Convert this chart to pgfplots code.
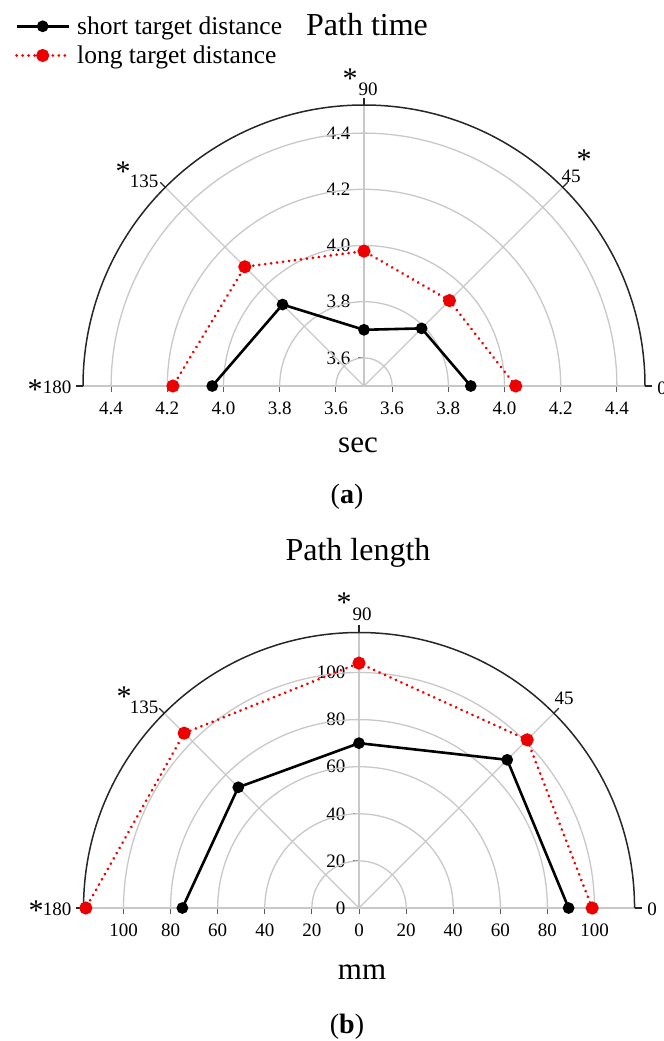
\documentclass[border=0pt]{standalone}
\usepackage{fontspec}
\setmainfont{Liberation Serif}
\usepackage{pgfplots}
\pgfplotsset{compat=1.18}
\usepackage{pgfplotstable}

\definecolor{myred}{RGB}{236,0,0}
\definecolor{gridc}{RGB}{200,200,200}

\pgfplotstableread{
ang r
0 3.88
45 3.79
90 3.70
135 3.91
180 4.04
}\timeShort
\pgfplotstableread{
ang r
0 4.04
45 3.93
90 3.98
135 4.10
180 4.18
}\timeLong
\pgfplotstableread{
ang r
0 89
45 89
90 70
135 72.5
180 75
}\lenShort
\pgfplotstableread{
ang r
0 99
45 101
90 104
135 105
180 116
}\lenLong

\newcommand{\tickfont}{\fontsize{19bp}{22bp}\selectfont}
\newcommand{\angfont}{\fontsize{19bp}{22bp}\selectfont}
\newcommand{\starfont}{\fontsize{30bp}{32bp}\selectfont}
\newcommand{\legfont}{\fontsize{25.5bp}{29bp}\selectfont}
\newcommand{\titlefont}{\fontsize{32bp}{36bp}\selectfont}
\newcommand{\unitfont}{\fontsize{31bp}{34bp}\selectfont}
\newcommand{\capfont}{\fontsize{28bp}{32bp}\selectfont}

\pgfplotsset{
  polarbase/.style={
    axis x line=bottom, axis y line=center,
    axis line style={draw=gridc, line width=1.3bp, -},
    tick align=outside, major tick length=6bp,
    tick style={draw=black!65, line width=0.9bp},
    ticklabel style={font=\tickfont},
    xticklabel style={yshift=-6bp},
    yticklabel style={xshift=-4bp},
    /pgf/number format/assume math mode=true,
    hide obscured x ticks=false, hide obscured y ticks=false,
    clip=false,
    anchor=south,
  },
  shortstyle/.style={black, line width=2.6bp, mark=*, mark size=4.5bp, mark options={solid, fill=black}},
  longstyle/.style={myred, line width=3bp, line cap=round, dash pattern=on 0.01bp off 6bp, mark=*, mark size=5bp, mark options={solid, fill=myred, draw=myred}},
}

\begin{document}
\begin{tikzpicture}
\path[use as bounding box] (0,0) rectangle (664bp,-1041bp);

% ---------------- (a) Path time ----------------
\begin{axis}[polarbase,
  at={(364bp,-386bp)},
  x=281bp, y=281bp,
  xmin=-1, xmax=1, ymin=0, ymax=1,
  xtick={-0.9,-0.7,-0.5,-0.3,-0.1,0.1,0.3,0.5,0.7,0.9},
  xticklabels={4.4,4.2,4.0,3.8,3.6,3.6,3.8,4.0,4.2,4.4},
  ytick={0.1,0.3,0.5,0.7,0.9},
  yticklabels={3.6,3.8,4.0,4.2,4.4},
  legend style={at={(axis description cs:-0.121,1.322)}, anchor=north west,
    draw=none, fill=none, font=\legfont, inner sep=0pt, row sep=6bp,
    /tikz/every odd column/.append style={column sep=5bp}},
  legend cell align=left,
  legend image code/.code={\draw[mark repeat=2,mark phase=2,#1] plot coordinates {(0bp,0bp) (26bp,0bp) (52bp,0bp)};},
]
\pgfplotsinvokeforeach{0.1,0.3,0.5,0.7,0.9}{
  \addplot[forget plot, gridc, line width=1.3bp, domain=0:180, samples=121] ({#1*cos(x)},{#1*sin(x)});
}
\addplot[forget plot, gridc, line width=1.3bp] coordinates {(0,0) (0.7071,0.7071)};
\addplot[forget plot, gridc, line width=1.3bp] coordinates {(0,0) (-0.7071,0.7071)};
\draw[black!85, line width=1.5bp] (axis cs:1,0) arc[start angle=0, end angle=180, radius=281bp];
\pgfplotsinvokeforeach{0,45,90,135,180}{
  \draw[black!85, line width=1.2bp] (axis cs:{cos(#1)},{sin(#1)}) -- ++(#1:7bp);
}
\addplot[shortstyle] table[x expr={(\thisrow{r}-3.5)*cos(\thisrow{ang})}, y expr={(\thisrow{r}-3.5)*sin(\thisrow{ang})}] {\timeShort};
\addplot[longstyle] table[x expr={(\thisrow{r}-3.5)*cos(\thisrow{ang})}, y expr={(\thisrow{r}-3.5)*sin(\thisrow{ang})}] {\timeLong};
\legend{short target distance, long target distance}
\end{axis}

\node[font=\titlefont] at (367bp,-25bp) {Path time};
\node[font=\starfont] at (350bp,-79bp) {*};
\node[font=\angfont] at (368bp,-89bp) {90};
\node[font=\starfont] at (123bp,-172bp) {*};
\node[font=\angfont] at (144bp,-181bp) {135};
\node[font=\angfont] at (571bp,-176bp) {45};
\node[font=\starfont] at (584bp,-160bp) {*};
\node[font=\starfont] at (35bp,-390bp) {*};
\node[font=\angfont] at (57bp,-387bp) {180};
\node[font=\angfont] at (662bp,-388bp) {0};
\node[font=\unitfont] at (358bp,-445bp) {sec};
\node[font=\capfont] at (347bp,-497bp) {(\textbf{a})};

% ---------------- (b) Path length ----------------
\node[font=\titlefont] at (358bp,-553bp) {Path length};
\begin{axis}[polarbase,
  at={(359bp,-908bp)},
  x=2.355bp, y=2.355bp,
  xmin=-117, xmax=117, ymin=0, ymax=117,
  xtick={-100,-80,-60,-40,-20,0,20,40,60,80,100},
  xticklabels={100,80,60,40,20,0,20,40,60,80,100},
  ytick={0,20,40,60,80,100},
  yticklabels={0,20,40,60,80,100},
]
\pgfplotsinvokeforeach{20,40,60,80,100}{
  \addplot[forget plot, gridc, line width=1.3bp, domain=0:180, samples=121] ({#1*cos(x)},{#1*sin(x)});
}
\addplot[forget plot, gridc, line width=1.3bp] coordinates {(0,0) (82.73,82.73)};
\addplot[forget plot, gridc, line width=1.3bp] coordinates {(0,0) (-82.73,82.73)};
\draw[black!85, line width=1.5bp] (axis cs:117,0) arc[start angle=0, end angle=180, radius=275.5bp];
\pgfplotsinvokeforeach{0,45,90,135,180}{
  \draw[black!85, line width=1.2bp] (axis cs:{117*cos(#1)},{117*sin(#1)}) -- ++(#1:7bp);
}
\addplot[shortstyle] table[x expr={\thisrow{r}*cos(\thisrow{ang})}, y expr={\thisrow{r}*sin(\thisrow{ang})}] {\lenShort};
\addplot[longstyle] table[x expr={\thisrow{r}*cos(\thisrow{ang})}, y expr={\thisrow{r}*sin(\thisrow{ang})}] {\lenLong};
\end{axis}

\node[font=\starfont] at (344bp,-603bp) {*};
\node[font=\angfont] at (362bp,-614bp) {90};
\node[font=\starfont] at (124bp,-697bp) {*};
\node[font=\angfont] at (144bp,-707bp) {135};
\node[font=\angfont] at (564bp,-698bp) {45};
\node[font=\starfont] at (36bp,-911bp) {*};
\node[font=\angfont] at (57bp,-909bp) {180};
\node[font=\angfont] at (652bp,-909bp) {0};
\node[font=\unitfont] at (362bp,-972bp) {mm};
\node[font=\capfont] at (347bp,-1027bp) {(\textbf{b})};
\end{tikzpicture}
\end{document}
